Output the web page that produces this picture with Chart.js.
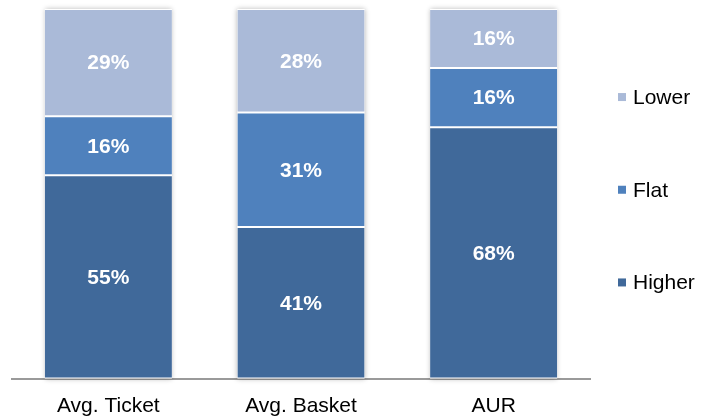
<!DOCTYPE html>
<html>
<head>
<meta charset="utf-8">
<script src="https://cdn.jsdelivr.net/npm/chart.js@4/dist/chart.umd.min.js"></script>
<style>
    html, body { margin: 0; padding: 0; background: #fff; }
    #wrap { width: 705px; height: 417px; position: relative; }
</style>
</head>
<body>
<div id="wrap"><canvas id="chart"></canvas></div>
<script>
// Share of responses per metric (stacked to 100%)
const categories = ['Avg. Ticket', 'Avg. Basket', 'AUR'];
const higher = [55, 41, 68];
const flat = [16, 31, 16];
const lower = [29, 28, 16];

const FONT = "'Liberation Sans', Arial, sans-serif";

// soft grey shadow around each full bar
const barShadow = {
    id: 'barShadow',
    beforeDatasetsDraw(chart) {
        const ctx = chart.ctx;
        const first = chart.getDatasetMeta(0).data;
        const last = chart.getDatasetMeta(chart.data.datasets.length - 1).data;
        ctx.save();
        ctx.shadowColor = 'rgba(0,0,0,0.28)';
        ctx.shadowBlur = 5;
        ctx.fillStyle = '#fff';
        first.forEach((el, i) => {
            const p = el.getProps(['x', 'base', 'width'], true);
            const top = last[i].getProps(['y'], true).y;
            ctx.fillRect(p.x - p.width / 2, top, p.width, p.base - top);
        });
        ctx.restore();
    }
};

// white % labels centred in every segment
const segmentLabels = {
    id: 'segmentLabels',
    afterDatasetsDraw(chart) {
        const ctx = chart.ctx;
        ctx.save();
        ctx.fillStyle = '#fff';
        ctx.font = 'bold 21px ' + FONT;
        ctx.textAlign = 'center';
        ctx.textBaseline = 'middle';
        chart.data.datasets.forEach((ds, di) => {
            chart.getDatasetMeta(di).data.forEach((el, i) => {
                const p = el.getProps(['x', 'y', 'base'], true);
                ctx.fillText(ds.data[i] + '%', p.x, (p.y + p.base) / 2 + 1);
            });
        });
        ctx.restore();
    }
};

// legend on the right, top-to-bottom in reverse stack order
const sideLegend = {
    id: 'sideLegend',
    afterDraw(chart) {
        const ctx = chart.ctx;
        const area = chart.chartArea;
        const items = chart.data.datasets.slice().reverse();
        const mid = (area.top + area.bottom) / 2 - 4;
        const step = 92.7;
        ctx.save();
        ctx.font = '21px ' + FONT;
        ctx.textBaseline = 'middle';
        ctx.fillStyle = '#000';
        items.forEach((ds, k) => {
            const y = mid + (k - 1) * step;
            const x = area.right + 28;
            ctx.fillStyle = ds.backgroundColor;
            ctx.fillRect(x, y - 4, 8, 8);
            ctx.fillStyle = '#000';
            ctx.fillText(ds.label, x + 15, y + 1);
        });
        ctx.restore();
    }
};

const segBorder = { top: 1, bottom: 1, left: 0, right: 0 };

new Chart(document.getElementById('chart'), {
    type: 'bar',
    data: {
        labels: categories,
        datasets: [
            { label: 'Higher', data: higher, backgroundColor: '#40699a' },
            { label: 'Flat', data: flat, backgroundColor: '#4f81bd' },
            { label: 'Lower', data: lower, backgroundColor: '#aabad8' },
        ].map(ds => Object.assign(ds, {
            borderColor: '#fff',
            borderWidth: segBorder,
            borderSkipped: false,
            barPercentage: 0.66,
            categoryPercentage: 1,
        }))
    },
    options: {
        responsive: true,
        maintainAspectRatio: false,
        animation: false,
        layout: { padding: { left: 12, right: 115, top: 9, bottom: 0 } },
        plugins: {
            legend: { display: false },
            tooltip: { enabled: false },
        },
        scales: {
            x: {
                stacked: true,
                grid: { display: false, drawTicks: false },
                border: { display: true, color: '#9a9a9a', width: 2 },
                ticks: { color: '#000', padding: 15, font: { family: FONT, size: 21 } },
                afterFit(scale) { scale.height = 38.5; },
            },
            y: {
                stacked: true,
                display: false,
                min: 0,
                max: 100,
            }
        }
    },
    plugins: [barShadow, segmentLabels, sideLegend]
});
</script>
</body>
</html>
